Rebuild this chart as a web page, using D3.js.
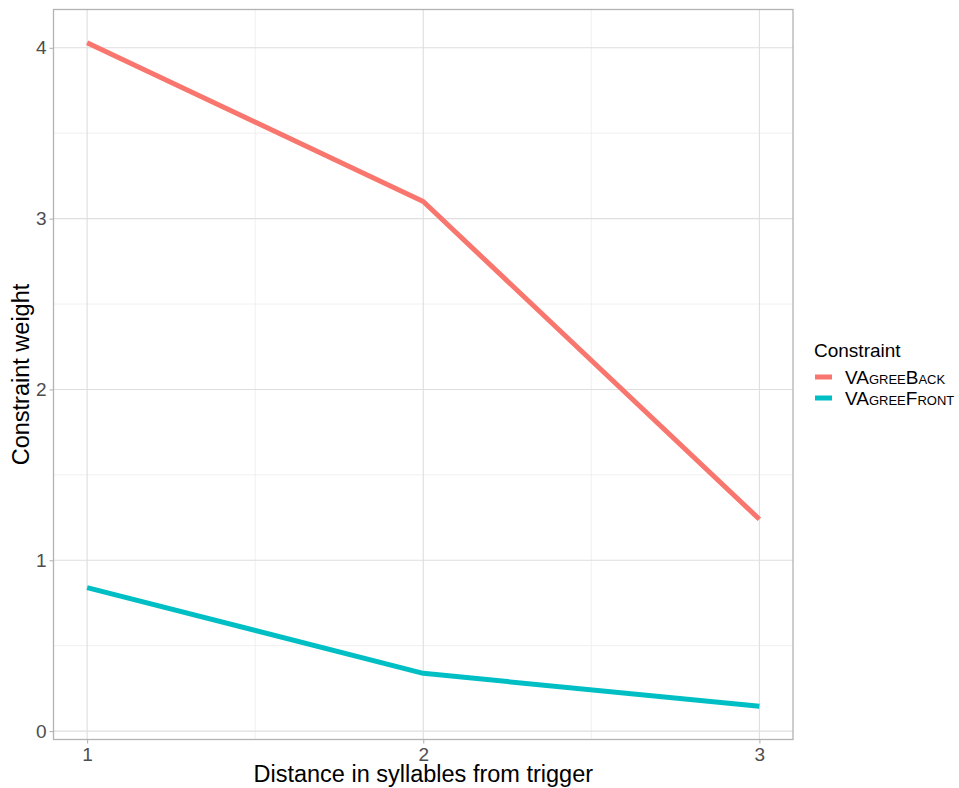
<!DOCTYPE html>
<html>
<head>
<meta charset="utf-8">
<script src="https://cdn.jsdelivr.net/npm/d3@7"></script>
<style>
  html, body { margin: 0; padding: 0; background: #fff; }
  svg { display: block; font-family: "Liberation Sans", Arial, Helvetica, sans-serif; }
</style>
</head>
<body>
<svg id="chart" width="959" height="788"></svg>
<script>
const distances = [1, 2, 3];
const seriesNames = ["VAgreeBack", "VAgreeFront"];
const vAgreeBack = [4.03, 3.10, 1.24];
const vAgreeFront = [0.84, 0.338, 0.145];
const seriesColors = ["#F8766D", "#00BFC4"];
const yTicks = [0, 1, 2, 3, 4];
const yMinorTicks = [0.5, 1.5, 2.5, 3.5];
const xTicks = [1, 2, 3];
const xMinorTicks = [1.5, 2.5];
const xTitle = "Distance in syllables from trigger";
const yTitle = "Constraint weight";
const legendTitle = "Constraint";

const series = [
  { name: seriesNames[0], values: vAgreeBack, color: seriesColors[0] },
  { name: seriesNames[1], values: vAgreeFront, color: seriesColors[1] }
];

const svg = d3.select("#chart");
const panel = { left: 53.5, right: 793, top: 9.5, bottom: 739.5 };

const allVals = vAgreeBack.concat(vAgreeFront);
const yMin = d3.min(allVals), yMax = d3.max(allVals);
const yPad = (yMax - yMin) * 0.05;
const xMin = d3.min(distances), xMax = d3.max(distances);
const xPad = (xMax - xMin) * 0.05;

const x = d3.scaleLinear().domain([xMin - xPad, xMax + xPad]).range([panel.left, panel.right]);
const y = d3.scaleLinear().domain([yMin - yPad, yMax + yPad]).range([panel.bottom, panel.top]);

const g = svg.append("g");

// minor grid
g.selectAll(".ygm").data(yMinorTicks).join("line")
  .attr("x1", panel.left).attr("x2", panel.right)
  .attr("y1", d => y(d)).attr("y2", d => y(d))
  .attr("stroke", "#ececec").attr("stroke-width", 0.8);
g.selectAll(".xgm").data(xMinorTicks).join("line")
  .attr("y1", panel.top).attr("y2", panel.bottom)
  .attr("x1", d => x(d)).attr("x2", d => x(d))
  .attr("stroke", "#ececec").attr("stroke-width", 0.8);
// major grid
g.selectAll(".ygM").data(yTicks).join("line")
  .attr("x1", panel.left).attr("x2", panel.right)
  .attr("y1", d => y(d)).attr("y2", d => y(d))
  .attr("stroke", "#dedede").attr("stroke-width", 1.1);
g.selectAll(".xgM").data(xTicks).join("line")
  .attr("y1", panel.top).attr("y2", panel.bottom)
  .attr("x1", d => x(d)).attr("x2", d => x(d))
  .attr("stroke", "#dedede").attr("stroke-width", 1.1);

// lines
const line = d3.line().x((d, i) => x(distances[i])).y(d => y(d));
g.selectAll(".series").data(series).join("path")
  .attr("d", d => line(d.values))
  .attr("fill", "none")
  .attr("stroke", d => d.color)
  .attr("stroke-width", 5)
  .attr("stroke-linejoin", "round")
  .attr("stroke-linecap", "butt");

// panel border
g.append("rect")
  .attr("x", panel.left).attr("y", panel.top)
  .attr("width", panel.right - panel.left).attr("height", panel.bottom - panel.top)
  .attr("fill", "none").attr("stroke", "#b3b3b3").attr("stroke-width", 1.3);

// axes
const xAxis = d3.axisBottom(x).tickValues(xTicks).tickFormat(d3.format("d")).tickSize(4).tickPadding(4);
const yAxis = d3.axisLeft(y).tickValues(yTicks).tickFormat(d3.format("d")).tickSize(4).tickPadding(3);

const gx = svg.append("g").attr("transform", `translate(0,${panel.bottom})`).call(xAxis);
const gy = svg.append("g").attr("transform", `translate(${panel.left},0)`).call(yAxis);
[gx, gy].forEach(a => {
  a.select(".domain").remove();
  a.selectAll(".tick line").attr("stroke", "#b3b3b3").attr("stroke-width", 1.1);
  a.selectAll(".tick text").attr("fill", "#4d4d4d").attr("font-size", 19)
    .attr("font-family", "Liberation Sans, Arial, sans-serif");
});

// titles
svg.append("text")
  .attr("x", (panel.left + panel.right) / 2).attr("y", 782)
  .attr("text-anchor", "middle").attr("font-size", 23.5).attr("fill", "#000")
  .text(xTitle);
svg.append("text")
  .attr("transform", `translate(28.5,${(panel.top + panel.bottom) / 2}) rotate(-90)`)
  .attr("text-anchor", "middle").attr("font-size", 23.5).attr("fill", "#000")
  .text(yTitle);

// legend
const lg = svg.append("g").attr("transform", "translate(814,0)");
lg.append("text").attr("x", 0).attr("y", 357).attr("font-size", 19).attr("fill", "#000").text(legendTitle);
const items = lg.selectAll(".item").data(series).join("g")
  .attr("transform", (d, i) => `translate(0,${377 + i * 21})`);
items.append("line").attr("x1", 1).attr("x2", 18).attr("y1", 0).attr("y2", 0)
  .attr("stroke", d => d.color).attr("stroke-width", 5);
items.append("text").attr("x", 31).attr("y", 6.5).attr("font-size", 19)
  .attr("fill", "#000").style("font-variant", "small-caps").text(d => d.name);
</script>
</body>
</html>
